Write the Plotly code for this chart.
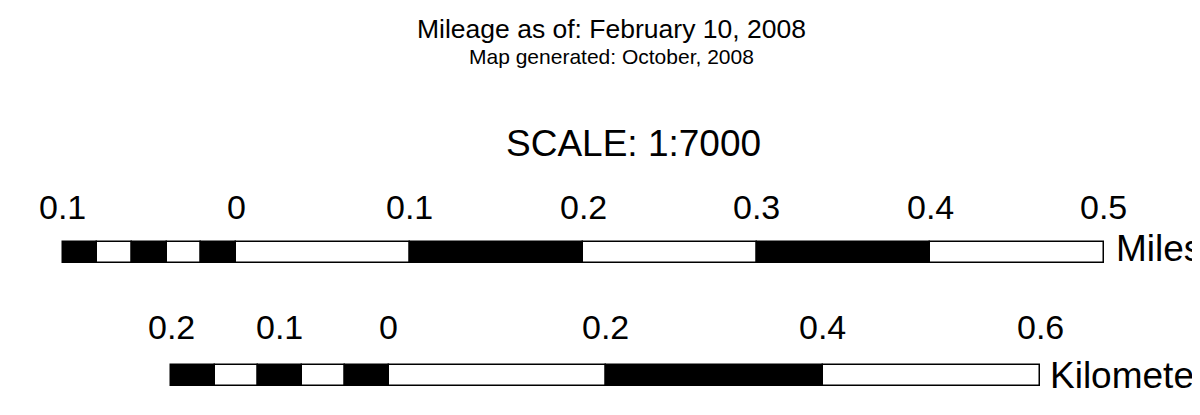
import plotly.graph_objects as go

# ---- data ----
mile_edges = [-0.1, -0.08, -0.06, -0.04, -0.02, 0.0, 0.1, 0.2, 0.3, 0.4, 0.5]
mile_fill = ["black", "white", "black", "white", "black", "white", "black", "white", "black", "white"]
mile_ticks = [-0.1, 0.0, 0.1, 0.2, 0.3, 0.4, 0.5]
mile_labels = ["0.1", "0", "0.1", "0.2", "0.3", "0.4", "0.5"]

km_edges = [-0.2, -0.16, -0.12, -0.08, -0.04, 0.0, 0.2, 0.4, 0.6]
km_fill = ["black", "white", "black", "white", "black", "white", "black", "white"]
km_ticks = [-0.2, -0.1, 0.0, 0.2, 0.4, 0.6]
km_labels = ["0.2", "0.1", "0", "0.2", "0.4", "0.6"]

title_text = "Mileage as of: February 10, 2008"
subtitle_text = "Map generated: October, 2008"
scale_text = "SCALE: 1:7000"

FONT = "Liberation Sans, Arial, sans-serif"

# page layout: the figure sits 8px in from the page's top-left corner (body margin)
OFF = 8
W, H = 1200 - OFF, 415 - OFF
mi_zero_px, mi_px_per_unit = 236.0 - OFF, 1735.0
km_zero_px, km_px_per_unit = 388.5 - OFF, 1086.0
mi_range = [-mi_zero_px / mi_px_per_unit, (W - mi_zero_px) / mi_px_per_unit]
km_range = [-km_zero_px / km_px_per_unit, (W - km_zero_px) / km_px_per_unit]
y_range = [415, OFF]  # y axis in page pixels

MI_BAR_Y, KM_BAR_Y, BAR_H = 252, 375, 21

fig = go.Figure()

for i, c in enumerate(mile_fill):
    fig.add_trace(go.Bar(
        orientation="h", base=[mile_edges[i]], x=[mile_edges[i + 1] - mile_edges[i]],
        y=[MI_BAR_Y], width=BAR_H, marker=dict(color=c, line=dict(color="black", width=1.5)),
        xaxis="x", yaxis="y", showlegend=False, hoverinfo="skip"))

for i, c in enumerate(km_fill):
    fig.add_trace(go.Bar(
        orientation="h", base=[km_edges[i]], x=[km_edges[i + 1] - km_edges[i]],
        y=[KM_BAR_Y], width=BAR_H, marker=dict(color=c, line=dict(color="black", width=1.5)),
        xaxis="x2", yaxis="y", showlegend=False, hoverinfo="skip"))

ann = []
for v, t in zip(mile_ticks, mile_labels):
    ann.append(dict(x=v, y=207, xref="x", yref="y", text=t, showarrow=False,
                    xanchor="center", yanchor="middle", font=dict(size=34, color="black", family=FONT)))
for v, t in zip(km_ticks, km_labels):
    ann.append(dict(x=v, y=326.5, xref="x2", yref="y", text=t, showarrow=False,
                    xanchor="center", yanchor="middle", font=dict(size=34, color="black", family=FONT)))

ann.append(dict(x=mile_edges[-1], y=MI_BAR_Y - 4, xref="x", yref="y", text="Miles", showarrow=False,
                xanchor="left", yanchor="middle", xshift=10, font=dict(size=37, color="black", family=FONT)))
ann.append(dict(x=km_edges[-1], y=KM_BAR_Y, xref="x2", yref="y", text="Kilometer", showarrow=False,
                xanchor="left", yanchor="middle", xshift=8, font=dict(size=37, color="black", family=FONT)))

ann.append(dict(x=(611 - OFF) / W, y=29, xref="paper", yref="y", text=title_text, showarrow=False,
                xanchor="center", yanchor="middle", font=dict(size=26.5, color="black", family=FONT)))
ann.append(dict(x=(611 - OFF) / W, y=56, xref="paper", yref="y", text=subtitle_text, showarrow=False,
                xanchor="center", yanchor="middle", font=dict(size=21, color="black", family=FONT)))
ann.append(dict(x=(633 - OFF) / W, y=143.5, xref="paper", yref="y", text=scale_text, showarrow=False,
                xanchor="center", yanchor="middle", font=dict(size=37, color="black", family=FONT)))

fig.update_layout(
    width=W, height=H, margin=dict(l=0, r=0, t=0, b=0),
    paper_bgcolor="white", plot_bgcolor="white",
    barmode="overlay", bargap=0,
    xaxis=dict(range=mi_range, domain=[0, 1], visible=False, fixedrange=True),
    xaxis2=dict(range=km_range, domain=[0, 1], visible=False, overlaying="x", fixedrange=True),
    yaxis=dict(range=y_range, domain=[0, 1], visible=False, fixedrange=True),
    annotations=ann, showlegend=False,
)

fig.write_html("out.html", config={"displayModeBar": False})
